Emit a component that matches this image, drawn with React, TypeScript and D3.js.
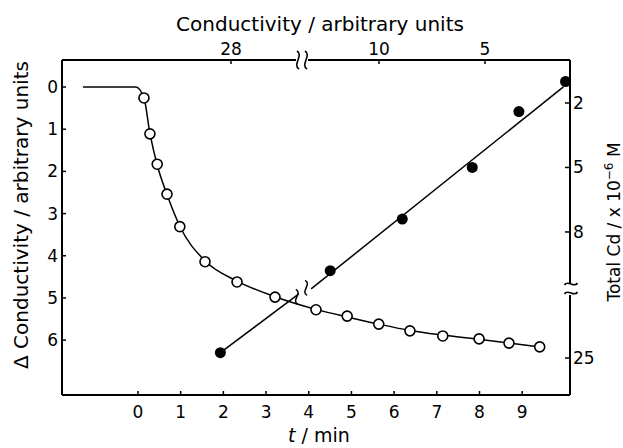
import * as d3 from "d3";
import React from "react";

// open circles: time vs change in conductivity
const tOpen = [0.14, 0.28, 0.45, 0.68, 0.98, 1.57, 2.32, 3.21, 4.17, 4.9, 5.64, 6.37, 7.14, 7.99, 8.69, 9.41];
const dcOpen = [0.26, 1.11, 1.83, 2.54, 3.31, 4.14, 4.62, 4.98, 5.28, 5.43, 5.62, 5.78, 5.9, 5.97, 6.07, 6.16];

// smooth curve drawn through the open circles (flat start before t=0)
const tCurve = [-1.29, -0.05, 0.14, 0.28, 0.45, 0.68, 0.98, 1.57, 2.32, 3.21, 4.17, 4.9, 5.64, 6.37, 7.14, 7.99, 8.69, 9.41];
const dcCurve = [0, 0, 0.26, 1.1, 1.85, 2.55, 3.3, 4.12, 4.6, 4.97, 5.27, 5.45, 5.62, 5.77, 5.88, 5.98, 6.07, 6.16];

// filled circles: conductivity (top axis) vs total Cd (right axis)
const condFilled = [28.5, 12.3, 8.9, 5.6, 3.4, 1.2];
const cdFilled = [24.75, 9.8, 7.4, 5.0, 2.4, 1.0];

// calibration line, broken in two pieces
const condFitLow = [28.5, 24.8];
const cdFitLow = [24.75, 22.0];
const condFitHigh = [13.2, 1.3];
const cdFitHigh = [10.65, 1.25];

const tTicks = [0, 1, 2, 3, 4, 5, 6, 7, 8, 9];
const dcTicks = [0, 1, 2, 3, 4, 5, 6];
const condTicks = [28, 10, 5];
const cdTicks = [2, 5, 8, 25];

const W = 623;
const H = 448;
const L = 62, R = 570, T = 60, B = 395;

const FONT = "'DejaVu Sans', sans-serif";

const App = () => {
  const x = d3.scaleLinear().domain([-1.78, 10.12]).range([L, R]);
  const y = d3.scaleLinear().domain([-0.64, 7.3]).range([T, B]);
  // broken axes: piecewise scales with a zero-width gap
  const xc = d3.scaleLinear().domain([35.97, 24.65, 13.63, 0.99]).range([L, 302, 302, R]);
  const yc = d3.scaleLinear().domain([0, 10.7, 21.82, 26.73]).range([T, 290, 290, B]);

  const curve = d3
    .line<number>()
    .x((d) => x(tCurve[d]))
    .y((d) => y(dcCurve[d]))
    .curve(d3.curveMonotoneX)(d3.range(tCurve.length));

  const fit = (cs: number[], ds: number[]) =>
    d3
      .line<number>()
      .x((i) => xc(cs[i]))
      .y((i) => yc(ds[i]))(d3.range(cs.length));

  // small wavy break marks
  const vWave = (cx: number, cy: number, h: number) =>
    `M${cx - 1},${cy - h / 2} C${cx + 6},${cy - h / 4} ${cx - 6},${cy + h / 4} ${cx + 1},${cy + h / 2}`;
  const hWave = (cx: number, cy: number, w: number) =>
    `M${cx - w / 2},${cy + 1} C${cx - w / 4},${cy - 5} ${cx + w / 4},${cy + 5} ${cx + w / 2},${cy - 1}`;

  const bx = xc(24.65); // top-axis break
  const by = yc(10.7); // right-axis break

  return (
    <svg
      width={W}
      height={H}
      style={{ position: "absolute", left: 0, top: 0, background: "#fff" }}
      fontFamily={FONT}
    >
      {/* frame */}
      <g stroke="#000" strokeWidth={2} fill="none">
        <line x1={L} y1={T} x2={L} y2={B} />
        <line x1={L} y1={B} x2={R} y2={B} />
        <line x1={L} y1={T} x2={R} y2={T} />
        <line x1={R} y1={T} x2={R} y2={B} />
      </g>

      {/* top axis break */}
      <rect x={bx - 6} y={T - 3} width={12} height={6} fill="#fff" />
      <g stroke="#000" strokeWidth={1.6} fill="none">
        <path d={vWave(bx - 4, T, 18)} />
        <path d={vWave(bx + 4, T, 18)} />
      </g>
      {/* right axis break */}
      <rect x={R - 3} y={by - 7} width={6} height={12} fill="#fff" />
      <g stroke="#000" strokeWidth={1.6} fill="none">
        <path d={hWave(R + 1, by - 6, 13)} />
        <path d={hWave(R + 1, by + 3, 13)} />
      </g>

      {/* ticks, all pointing inward */}
      <g stroke="#000" strokeWidth={1.5}>
        {tTicks.map((t) => (
          <line key={t} x1={x(t)} x2={x(t)} y1={B} y2={B - 4} />
        ))}
        {dcTicks.map((d) => (
          <line key={d} x1={L} x2={L + 4} y1={y(d)} y2={y(d)} />
        ))}
        {condTicks.map((c) => (
          <line key={c} x1={xc(c)} x2={xc(c)} y1={T} y2={T + 4} />
        ))}
        {cdTicks.map((c) => (
          <line key={c} x1={R} x2={R - 5} y1={yc(c)} y2={yc(c)} />
        ))}
      </g>

      <g fontSize={17} fill="#000">
        {tTicks.map((t) => (
          <text key={t} x={x(t)} y={418} textAnchor="middle">
            {t}
          </text>
        ))}
        {dcTicks.map((d) => (
          <text key={d} x={58} y={y(d) + 6} textAnchor="end">
            {d}
          </text>
        ))}
        {condTicks.map((c) => (
          <text key={c} x={xc(c)} y={55} textAnchor="middle">
            {c}
          </text>
        ))}
        {cdTicks.map((c) => (
          <text key={c} x={573} y={yc(c) + 6} textAnchor="start">
            {c}
          </text>
        ))}
      </g>

      {/* axis titles */}
      <text x={320} y={31} fontSize={20} textAnchor="middle">
        Conductivity / arbitrary units
      </text>
      <text x={319} y={442} fontSize={19} textAnchor="middle">
        <tspan fontStyle="italic">t</tspan> / min
      </text>
      <text transform="translate(28,215) rotate(-90)" fontSize={20} textAnchor="middle">
        Δ Conductivity / arbitrary units
      </text>
      <text transform="translate(620,222) rotate(-90)" fontSize={17} textAnchor="middle">
        Total Cd / x 10
        <tspan dy={-7} fontSize={12}>
          −6
        </tspan>
        <tspan dy={7}> M</tspan>
      </text>

      {/* curve and open circles */}
      <path d={curve ?? ""} fill="none" stroke="#000" strokeWidth={1.5} />
      {tOpen.map((t, i) => (
        <circle key={i} cx={x(t)} cy={y(dcOpen[i])} r={5} fill="#fff" stroke="#000" strokeWidth={1.6} />
      ))}

      {/* calibration line with break */}
      <g fill="none" stroke="#000" strokeWidth={1.5}>
        <path d={fit(condFitLow, cdFitLow) ?? ""} />
        <path d={fit(condFitHigh, cdFitHigh) ?? ""} />
        <path d={vWave(xc(24.8) - 2, yc(22.0) + 3, 15)} />
        <path d={vWave(xc(13.2) - 5, yc(10.65) - 1, 15)} />
      </g>
      {condFilled.map((c, i) => (
        <circle key={i} cx={xc(c)} cy={yc(cdFilled[i])} r={5.5} fill="#000" />
      ))}
    </svg>
  );
};

export default App;
